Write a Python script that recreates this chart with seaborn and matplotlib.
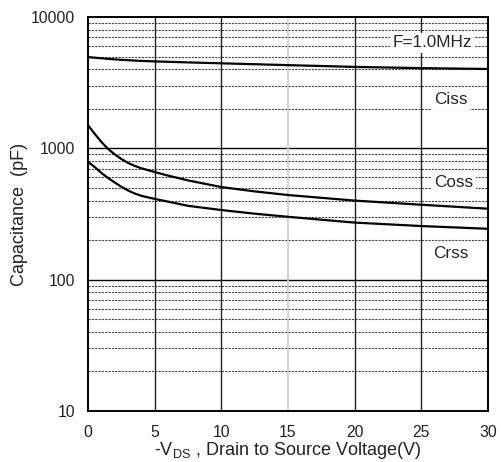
import numpy as np
import pandas as pd
import seaborn as sns
import matplotlib.pyplot as plt
from matplotlib.ticker import FixedLocator, NullFormatter

# values (pF vs -Vds)
vds = [0, 0.5, 1, 1.5, 2, 2.5, 3, 3.5, 4, 5, 6, 7.5, 10, 12.5, 15, 20, 25, 30]
ciss = [4950, 4900, 4850, 4800, 4760, 4720, 4690, 4660, 4630, 4590, 4560, 4510, 4440, 4370, 4300, 4170, 4080, 4020]
coss = [1500, 1290, 1120, 990, 900, 830, 775, 735, 705, 660, 620, 570, 507, 470, 441, 400, 372, 347]
crss = [790, 720, 650, 595, 550, 510, 478, 453, 435, 412, 393, 365, 339, 318, 301, 272, 256, 244]

df = pd.DataFrame({'vds': vds * 3,
                   'cap': ciss + coss + crss,
                   'kind': ['Ciss'] * len(vds) + ['Coss'] * len(vds) + ['Crss'] * len(vds)})

sns.set_style('white')
plt.rcParams['font.family'] = ['Liberation Sans', 'DejaVu Sans']

fig = plt.figure(figsize=(5.02, 4.62), dpi=100)
ax = fig.add_axes([88/502, 1-411/462, 400/502, 394/462])

# grid first so curves sit on top
for m in [2, 3, 4, 5, 6, 7, 8, 9]:
    for d in [10, 100, 1000]:
        ax.axhline(m*d, color='#444444', lw=0.8, ls=(0, (2, 1)), zorder=1)
for d in [100, 1000]:
    ax.axhline(d, color='black', lw=1.0, zorder=1)
for x in [5, 10, 20, 25]:
    ax.axvline(x, color='#222222', lw=1.0, zorder=1)
ax.axvline(15, color='#cccccc', lw=1.2, zorder=1)

sns.lineplot(data=df, x='vds', y='cap', units='kind', estimator=None,
             color='black', lw=1.6, ax=ax, zorder=3, legend=False)

ax.set_yscale('log')
ax.set_xlim(0, 30)
ax.set_ylim(10, 10000)
ax.set_xticks([0, 5, 10, 15, 20, 25, 30])
ax.yaxis.set_major_locator(FixedLocator([10, 100, 1000, 10000]))
ax.set_yticklabels(['10', '100', '1000', '10000'])
ax.yaxis.set_minor_formatter(NullFormatter())
ax.tick_params(axis='both', which='both', length=0, labelsize=11.3, colors='#222222')
ax.tick_params(axis='x', pad=10)
ax.tick_params(axis='y', pad=9)

for s in ax.spines.values():
    s.set_color('black')
    s.set_linewidth(1.4)

ax.set_xlabel('-V$_{\\mathregular{DS}}$ , Drain to Source Voltage(V)', fontsize=13, color='#222222', labelpad=0)
ax.set_ylabel('Capacitance  (pF)', fontsize=13, color='#222222', labelpad=2)

box = dict(facecolor='white', edgecolor='none', pad=2)
ax.text(25.8, 6340, 'F=1.0MHz', fontsize=12.3, ha='center', va='center', bbox=box, zorder=4)
ax.text(27.2, 2335, 'Ciss', fontsize=12.3, ha='center', va='center', bbox=box, zorder=4)
ax.text(27.4, 553, 'Coss', fontsize=12.3, ha='center', va='center', bbox=box, zorder=4)
ax.text(27.2, 157, 'Crss', fontsize=12.3, ha='center', va='center', bbox=box, zorder=4)

plt.savefig('out.png', dpi=100)
